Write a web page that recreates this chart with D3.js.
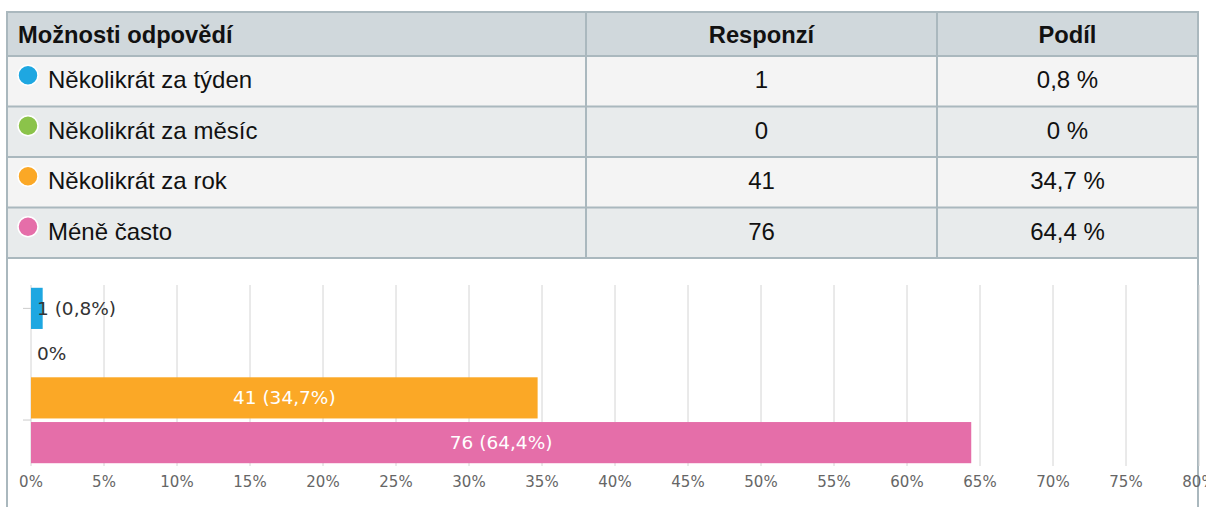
<!DOCTYPE html>
<html>
<head>
<meta charset="utf-8">
<script src="https://cdn.jsdelivr.net/npm/d3@7"></script>
<style>
	body { margin: 0; background: #fff; }
	svg { display: block; }
</style>
</head>
<body>
<div id="chart"></div>
<script>
// table + bar data
var headers = ["Možnosti odpovědí", "Responzí", "Podíl"];
var categories = ["Několikrát za týden", "Několikrát za měsíc", "Několikrát za rok", "Méně často"];
var responses = [1, 0, 41, 76];
var shares = [0.8, 0, 34.7, 64.4];
var colors = ["#1ea7e1", "#8bc34a", "#fba826", "#e56ea9"];
var xTicks = [0, 5, 10, 15, 20, 25, 30, 35, 40, 45, 50, 55, 60, 65, 70, 75, 80];

var fmt = function(v) { return String(v).replace(".", ","); };

var W = 1206, H = 507;
var svg = d3.select("#chart")
	.append("svg")
	.attr("width", W)
	.attr("height", H);

// table geometry
var colEdges = [7, 586, 937, 1198];
var headTop = 12, headBottom = 56;
var rowY = d3.scaleBand()
	.domain(categories)
	.range([headBottom, 258]);
var border = "#aab8be";
var font = "'Liberation Sans', Arial, sans-serif";

// header
svg.append("rect")
	.attr("x", colEdges[0]).attr("y", headTop)
	.attr("width", colEdges[3] - colEdges[0]).attr("height", headBottom - headTop)
	.attr("fill", "#d0d8dc");

// rows
svg.selectAll(".rowbg")
	.data(categories)
	.enter()
	.append("rect")
	.attr("x", colEdges[0])
	.attr("y", function(d) { return rowY(d); })
	.attr("width", colEdges[3] - colEdges[0])
	.attr("height", rowY.bandwidth())
	.attr("fill", function(d, i) { return i % 2 == 0 ? "#f4f4f4" : "#e8ebec"; });

// horizontal lines
var hLines = [headBottom].concat(categories.map(function(d) { return rowY(d) + rowY.bandwidth(); }));
svg.selectAll(".hline")
	.data(hLines)
	.enter()
	.append("line")
	.attr("x1", colEdges[0]).attr("x2", colEdges[3])
	.attr("y1", function(d) { return d; }).attr("y2", function(d) { return d; })
	.attr("stroke", border).attr("stroke-width", 2);

// column separators
svg.selectAll(".vline")
	.data([colEdges[1], colEdges[2]])
	.enter()
	.append("line")
	.attr("x1", function(d) { return d; }).attr("x2", function(d) { return d; })
	.attr("y1", headTop).attr("y2", 258)
	.attr("stroke", border).attr("stroke-width", 2);

// outer box (goes down around the chart too)
svg.append("path")
	.attr("d", "M" + colEdges[0] + "," + H + "V" + headTop + "H" + colEdges[3] + "V" + H)
	.attr("fill", "none")
	.attr("stroke", border)
	.attr("stroke-width", 2);

// header texts
svg.append("text")
	.attr("x", 18).attr("y", 43)
	.style("font", "bold 23.7px " + font)
	.attr("fill", "#111")
	.text(headers[0]);
[1, 2].forEach(function(c) {
	svg.append("text")
		.attr("x", (colEdges[c] + colEdges[c + 1]) / 2).attr("y", 43)
		.attr("text-anchor", "middle")
		.style("font", "bold 23.7px " + font)
		.attr("fill", "#111")
		.text(headers[c]);
});

// row contents
var rowG = svg.selectAll(".row")
	.data(categories)
	.enter()
	.append("g")
	.attr("transform", function(d) { return "translate(0," + (rowY(d) + rowY.bandwidth() / 2) + ")"; });
rowG.append("circle")
	.attr("cx", 28).attr("cy", -6).attr("r", 10)
	.attr("fill", function(d, i) { return colors[i]; })
	.attr("stroke", "#fff").attr("stroke-width", 1.5);
rowG.append("text")
	.attr("x", 48).attr("y", 7)
	.style("font", "24px " + font)
	.attr("fill", "#111")
	.text(function(d) { return d; });
rowG.append("text")
	.attr("x", (colEdges[1] + colEdges[2]) / 2).attr("y", 7)
	.attr("text-anchor", "middle")
	.style("font", "24px " + font)
	.attr("fill", "#111")
	.text(function(d, i) { return responses[i]; });
rowG.append("text")
	.attr("x", (colEdges[2] + colEdges[3]) / 2).attr("y", 7)
	.attr("text-anchor", "middle")
	.style("font", "24px " + font)
	.attr("fill", "#111")
	.text(function(d, i) { return fmt(shares[i]) + " %"; });

// bar chart
var x = d3.scaleLinear().domain([0, 80]).range([31, 1199]);
var y = d3.scaleBand()
	.domain(categories)
	.range([286, 465])
	.paddingInner(0.08)
	.paddingOuter(0.04);
var cfont = "'DejaVu Sans', sans-serif";

// gridlines
svg.selectAll(".grid")
	.data(xTicks)
	.enter()
	.append("line")
	.attr("x1", function(d) { return x(d); }).attr("x2", function(d) { return x(d); })
	.attr("y1", 285).attr("y2", 466)
	.attr("stroke", "#d4d4d4").attr("stroke-width", 1);

// tick labels
svg.selectAll(".tick")
	.data(xTicks)
	.enter()
	.append("text")
	.attr("x", function(d) { return x(d); })
	.attr("y", 487)
	.attr("text-anchor", "middle")
	.style("font", "15px " + cfont)
	.attr("fill", "#666")
	.text(function(d) { return d + "%"; });

// small left ticks
svg.selectAll(".ytick")
	.data([y(categories[0]) + y.bandwidth() / 2, y(categories[3]) - 2])
	.enter()
	.append("line")
	.attr("x1", 23).attr("x2", 31)
	.attr("y1", function(d) { return d; }).attr("y2", function(d) { return d; })
	.attr("stroke", "#ccc");

// bars
svg.selectAll(".bar")
	.data(categories)
	.enter()
	.append("rect")
	.attr("x", x(0))
	.attr("y", function(d) { return y(d); })
	.attr("width", function(d, i) { return x(shares[i]) - x(0); })
	.attr("height", y.bandwidth())
	.attr("fill", function(d, i) { return colors[i]; });

// bar labels
svg.selectAll(".blabel")
	.data(categories)
	.enter()
	.append("text")
	.attr("x", function(d, i) { return shares[i] > 10 ? (x(0) + x(shares[i])) / 2 : x(0) + 6; })
	.attr("y", function(d) { return y(d) + y.bandwidth() / 2 + 6.5; })
	.attr("text-anchor", function(d, i) { return shares[i] > 10 ? "middle" : "start"; })
	.style("font", "18.5px " + cfont)
	.attr("fill", function(d, i) { return shares[i] > 10 ? "#fff" : "#333"; })
	.text(function(d, i) { return responses[i] > 0 ? responses[i] + " (" + fmt(shares[i]) + "%)" : "0%"; });
</script>
</body>
</html>
